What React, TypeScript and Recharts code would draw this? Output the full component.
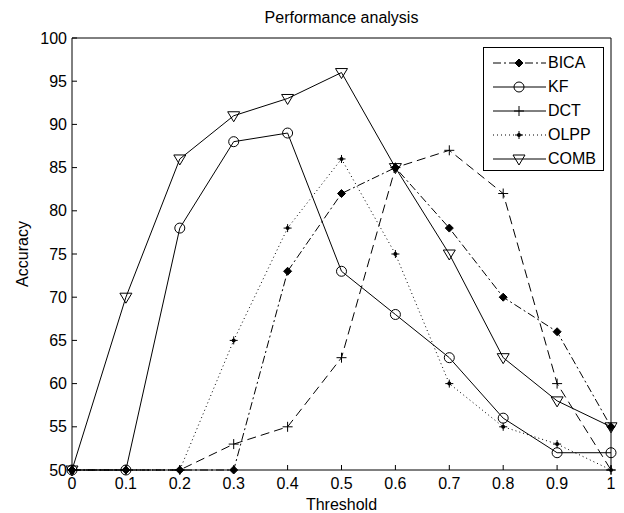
import { Legend, Line, LineChart, XAxis, YAxis } from "recharts"

const thresholds = [0, 0.1, 0.2, 0.3, 0.4, 0.5, 0.6, 0.7, 0.8, 0.9, 1]
const bica = [50, 50, 50, 50, 73, 82, 85, 78, 70, 66, 55]
const kf = [50, 50, 78, 88, 89, 73, 68, 63, 56, 52, 52]
const dct = [50, 50, 50, 53, 55, 63, 85, 87, 82, 60, 50]
const olpp = [50, 50, 50, 65, 78, 86, 75, 60, 55, 53, 50]
const comb = [50, 70, 86, 91, 93, 96, 85, 75, 63, 58, 55]

const xTicks = [0, 0.1, 0.2, 0.3, 0.4, 0.5, 0.6, 0.7, 0.8, 0.9, 1]
const yTicks = [50, 55, 60, 65, 70, 75, 80, 85, 90, 95, 100]

type MarkerKind = "diamond" | "circle" | "plus" | "star" | "triangle"

interface SeriesDef {
  key: string
  name: string
  dash?: string
  legendDash?: string
  marker: MarkerKind
}

const series: SeriesDef[] = [
  { key: "bica", name: "BICA", dash: "8 3 2 3", legendDash: "8 3 2 3", marker: "diamond" },
  { key: "kf", name: "KF", marker: "circle" },
  { key: "dct", name: "DCT", dash: "9 5", marker: "plus" },
  { key: "olpp", name: "OLPP", dash: "1 3", legendDash: "1 3", marker: "star" },
  { key: "comb", name: "COMB", marker: "triangle" },
]

const rows = thresholds.map((t, i) => ({
  t,
  bica: bica[i],
  kf: kf[i],
  dct: dct[i],
  olpp: olpp[i],
  comb: comb[i],
}))

const font = "'Liberation Sans', Arial, sans-serif"
const tickStyle = { fontSize: 16, fill: "#000", fontFamily: font }

function Marker({ kind, cx, cy }: { kind: MarkerKind; cx: number; cy: number }) {
  switch (kind) {
    case "diamond":
      return <path d={`M${cx},${cy - 4}L${cx + 4},${cy}L${cx},${cy + 4}L${cx - 4},${cy}Z`} fill="#000" stroke="#000" />
    case "circle":
      return <circle cx={cx} cy={cy} r={5} fill="none" stroke="#000" />
    case "plus":
      return <path d={`M${cx - 5},${cy}H${cx + 5}M${cx},${cy - 5}V${cy + 5}`} stroke="#000" fill="none" />
    case "star":
      return (
        <g>
          <path d={`M${cx - 4},${cy}H${cx + 4}M${cx},${cy - 4}V${cy + 4}`} stroke="#000" fill="none" />
          <circle cx={cx} cy={cy} r={2} fill="#000" />
        </g>
      )
    default:
      return <path d={`M${cx - 6},${cy - 4}L${cx + 6},${cy - 4}L${cx},${cy + 6}Z`} fill="none" stroke="#000" />
  }
}

// boxed legend in the top-right corner, like the matlab one
function LegendBox() {
  return (
    <div
      style={{
        width: 121,
        height: 124,
        boxSizing: "border-box",
        border: "1px solid #000",
        background: "#fff",
        paddingTop: 3,
        fontFamily: font,
        fontSize: 16,
        color: "#000",
      }}
    >
      {series.map((s) => (
        <div key={s.key} style={{ display: "flex", alignItems: "center", height: 24 }}>
          <svg width={64} height={24} style={{ display: "block" }}>
            <line x1={9} x2={62} y1={12} y2={12} stroke="#000" strokeDasharray={s.legendDash} />
            <Marker kind={s.marker} cx={35} cy={12} />
          </svg>
          <span>{s.name}</span>
        </div>
      ))}
    </div>
  )
}

export default function App() {
  return (
    <div style={{ position: "absolute", left: 0, top: 0, width: 624, height: 513, background: "#fff", fontFamily: font }}>
      <LineChart width={624} height={513} data={rows} margin={{ top: 37, right: 12, left: 0, bottom: 0 }}>
        <XAxis
          dataKey="t"
          type="number"
          domain={[0, 1]}
          ticks={xTicks}
          height={43}
          tickSize={-5}
          tickMargin={13}
          stroke="#000"
          tick={tickStyle}
          label={{ value: "Threshold", position: "insideBottom", offset: 3, fill: "#000", fontSize: 16 }}
        />
        <XAxis
          xAxisId="top"
          orientation="top"
          dataKey="t"
          type="number"
          domain={[0, 1]}
          ticks={xTicks}
          height={1}
          tickSize={-5}
          tick={false}
          stroke="#000"
          label={{ value: "Performance analysis", position: "top", offset: 14, fill: "#000", fontSize: 16 }}
        />
        <YAxis
          type="number"
          domain={[50, 100]}
          ticks={yTicks}
          width={72}
          tickSize={-5}
          tickMargin={10}
          stroke="#000"
          tick={tickStyle}
          label={{
            value: "Accuracy",
            angle: -90,
            position: "insideLeft",
            offset: 22,
            fill: "#000",
            fontSize: 16,
            style: { textAnchor: "middle" },
          }}
        />
        <YAxis
          yAxisId="right"
          orientation="right"
          type="number"
          domain={[50, 100]}
          ticks={yTicks}
          width={1}
          tickSize={-5}
          tick={false}
          stroke="#000"
        />
        <Legend
          layout="vertical"
          align="center"
          verticalAlign="middle"
          wrapperStyle={{ left: 483, top: 47, width: 121, height: 124 }}
          content={() => <LegendBox />}
        />
        {series.map((s) => (
          <Line
            key={s.key}
            dataKey={s.key}
            name={s.name}
            type="linear"
            stroke="#000"
            strokeWidth={1}
            strokeDasharray={s.dash}
            isAnimationActive={false}
            dot={(p: any) => <Marker key={`${s.key}-${p.index}`} kind={s.marker} cx={p.cx} cy={p.cy} />}
            activeDot={false}
          />
        ))}
      </LineChart>
    </div>
  )
}
